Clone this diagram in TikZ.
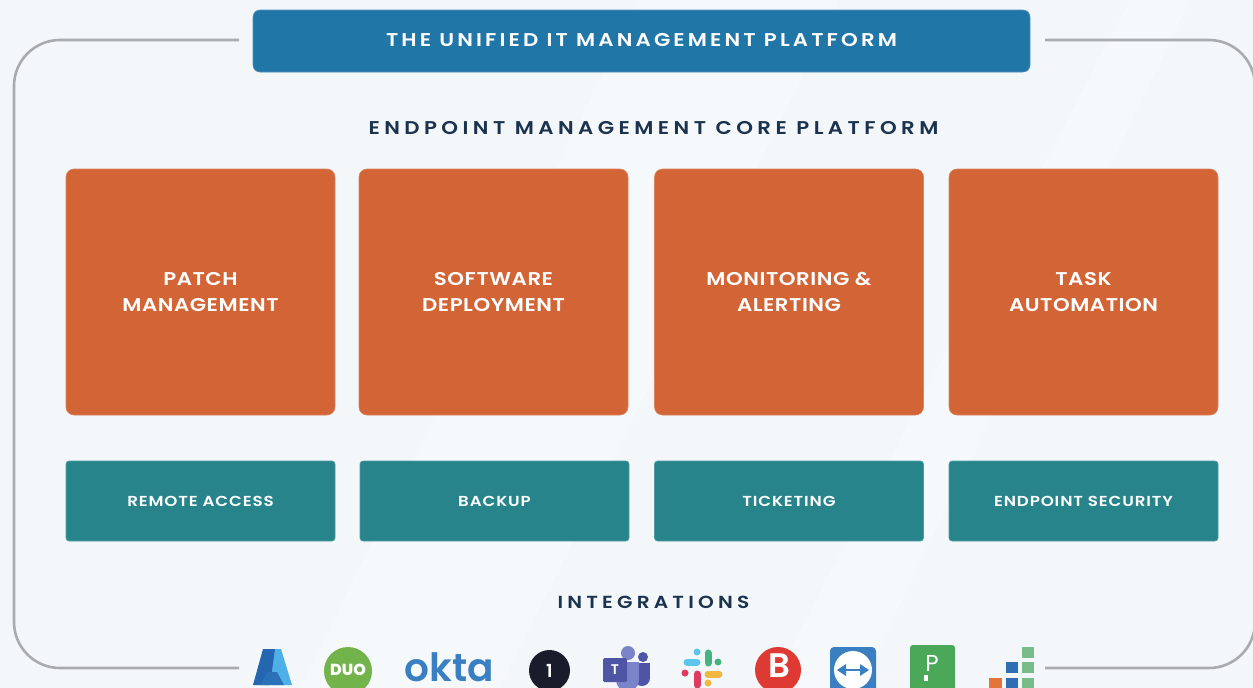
\documentclass[tikz,border=0pt]{standalone}
\usepackage{fontspec}
\usepackage{xcolor}
\newfontfamily\titlefont[LetterSpace=17,FakeStretch=1.15]{Poppins SemiBold}
\newfontfamily\headfont[LetterSpace=24,FakeStretch=1.15]{Poppins SemiBold}
\newfontfamily\boxfont[LetterSpace=3,FakeStretch=1.15]{Poppins SemiBold}
\newfontfamily\smallfont[LetterSpace=6,FakeStretch=1.15]{Poppins SemiBold}
\newfontfamily\logofont{Poppins SemiBold}
\newfontfamily\duofont{Poppins ExtraBold}
\newfontfamily\thinfont{Poppins}
\definecolor{pagebg}{HTML}{F3F7FA}
\definecolor{framegray}{HTML}{A9ABB0}
\definecolor{titleblue}{HTML}{2176A8}
\definecolor{coreorange}{HTML}{D26436}
\definecolor{addonteal}{HTML}{26848A}
\definecolor{headnavy}{HTML}{1C3350}
\definecolor{oktablue}{HTML}{3A7FC1}
\definecolor{teampurple}{HTML}{4F55A5}
\definecolor{teamlight}{HTML}{7B83C9}
\definecolor{logogreen}{HTML}{4AA858}
\definecolor{gridgreen}{HTML}{78BC8A}
\definecolor{gridblue}{HTML}{2F6DB5}
\definecolor{gridorange}{HTML}{E5743A}
\definecolor{azuredark}{HTML}{2566B0}
\definecolor{azurelight}{HTML}{4FB0E8}
\definecolor{duogreen}{HTML}{72B34B}
\definecolor{onedark}{HTML}{191C2B}
\definecolor{beered}{HTML}{DE3A33}
\definecolor{slackblue}{HTML}{5BC5EE}
\definecolor{slackgreen}{HTML}{46B383}
\definecolor{slackyellow}{HTML}{F0B840}
\definecolor{slackred}{HTML}{DE3A62}
\tikzset{
    orangebox/.style={draw=coreorange!80!white, line width=0.6pt, fill=coreorange, rounded corners=8pt, text=white,
        minimum width=269pt, minimum height=246pt, align=center, font=\fontsize{18.5}{26.5}\selectfont\boxfont},
    tealbox/.style={draw=addonteal!80!white, line width=0.6pt, fill=addonteal, rounded corners=3pt, text=white,
        minimum width=269pt, minimum height=80pt, font=\fontsize{14.5}{17}\selectfont\smallfont},
    headtext/.style={text=headnavy, font=\fontsize{18.5}{22}\selectfont\headfont},
    frameline/.style={draw=framegray, line width=2.6pt},
    slackbar/.style={line width=7pt, line cap=round},
    logotext/.style={inner sep=0pt, text=white}
}
\begin{document}
\begin{tikzpicture}[x=1pt,y=-1pt]
    \useasboundingbox (0,0) rectangle (1253,688);
    \clip (0,0) rectangle (1253,688);
    \fill[pagebg] (0,0) rectangle (1253,688);
    % faint streaks
    \fill[white,opacity=0.3] (1130,0) -- (1190,0) -- (860,688) -- (770,688) -- cycle;
    \fill[white,opacity=0.3] (640,0) -- (840,0) -- (500,688) -- (300,688) -- cycle;

    % outer frame
    \draw[frameline] (239,40) -- (60,40) arc (270:180:46) -- (14,622) arc (180:90:46) -- (239,668);
    \draw[frameline] (1045,40) -- (1209,40) arc (270:360:46) -- (1255,622) arc (0:90:46) -- (1045,668);

    \node[fill=titleblue, draw=titleblue!80!white, line width=0.6pt, rounded corners=7pt, minimum width=777pt, minimum height=62pt,
        text=white, font=\fontsize{18.5}{22}\selectfont\titlefont] (title) at (641.5,41) {\raisebox{2pt}{THE UNIFIED IT MANAGEMENT PLATFORM}};
    \node[headtext] (core) at (653.5,128) {ENDPOINT MANAGEMENT CORE PLATFORM};

    \node[orangebox] (patch) at (200.5,292) {PATCH\\MANAGEMENT};
    \node[orangebox] (software) at (493.5,292) {SOFTWARE\\DEPLOYMENT};
    \node[orangebox] (monitoring) at (789,292) {MONITORING \&\\ALERTING};
    \node[orangebox] (task) at (1083.5,292) {TASK\\AUTOMATION};

    \node[tealbox] (remote) at (200.5,501) {REMOTE ACCESS};
    \node[tealbox] (backup) at (494.5,501) {BACKUP};
    \node[tealbox] (ticketing) at (789,501) {TICKETING};
    \node[tealbox] (security) at (1083.5,501) {ENDPOINT SECURITY};

    \node[headtext, font=\fontsize{17.5}{22}\selectfont\headfont] (integrations) at (653.5,602) {INTEGRATIONS};

    % azure
    \fill[azurelight] (266,649) -- (281,649) -- (292,685) -- (272,685) -- cycle;
    \fill[azuredark] (253,685) -- (263,649) -- (275,649) -- (270,685) -- cycle;
    \fill[azuredark!85!azurelight] (268,672) -- (277,672) -- (284,685) -- (260,685) -- cycle;

    % duo
    \fill[duogreen] (348,671) circle (24);
    \node[logotext, font=\fontsize{16}{16}\selectfont\duofont] (duo) at (348,670) {DUO};

    % okta
    \node[inner sep=0pt, text=oktablue, font=\fontsize{39}{39}\selectfont\logofont] (okta) at (449.5,667) {okta};

    % one
    \fill[onedark] (549.5,670.5) circle (20.5);
    \node[logotext, font=\fontsize{18}{18}\selectfont\logofont] (one) at (549.5,670.5) {1};

    % teams
    \fill[teamlight] (628,653) circle (7);
    \fill[teampurple] (643,657) circle (5);
    \fill[teampurple] (634,663) rectangle (650,678);
    \fill[teampurple] (642,678) circle (8);
    \fill[teamlight] (616,662) rectangle (639,680);
    \fill[teamlight] (627.5,680) circle (11.5);
    \node[logotext, fill=teampurple, rounded corners=1.5pt, minimum size=24pt,
        font=\fontsize{14}{14}\selectfont\logofont] (teams) at (615,670) {T};

    % slack
    \draw[slackbar, slackblue] (687,662) -- (697,662);
    \fill[slackblue] (697,652) circle (3.5);
    \draw[slackbar, slackgreen] (708,653) -- (708,663);
    \fill[slackgreen] (718,662) circle (3.5);
    \draw[slackbar, slackyellow] (708,674) -- (719,674);
    \fill[slackyellow] (708,683) circle (3.5);
    \draw[slackbar, slackred] (697,674) -- (697,685);
    \fill[slackred] (685,673) circle (3.5);

    % bitdefender
    \fill[beered] (778,670) circle (23);
    \node[logotext, font=\fontsize{34}{34}\selectfont\logofont] (bee) at (779.5,666) {B};

    % teamviewer
    \fill[oktablue, rounded corners=4pt] (830,647) rectangle (876,700);
    \fill[white] (853,670) circle (19);
    \draw[oktablue, line width=2pt] (843,670) -- (863,670);
    \fill[oktablue] (837,670) -- (846,664) -- (846,676) -- cycle;
    \fill[oktablue] (869,670) -- (860,664) -- (860,676) -- cycle;

    % pagerduty
    \fill[logogreen, rounded corners=3pt] (910,645) rectangle (955,700);
    \node[logotext, font=\fontsize{23}{23}\selectfont\thinfont] (pager) at (932,663) {P};
    \fill[white] (924,675) rectangle (928,681);

    % grid
    \fill[gridorange] (989,678) rectangle (1002,690);
    \fill[gridblue] (1006,662) rectangle (1018,673);
    \fill[gridblue] (1006,678) rectangle (1018,690);
    \fill[gridgreen] (1022,647) rectangle (1034,658);
    \fill[gridgreen] (1022,662) rectangle (1034,673);
    \fill[gridgreen] (1022,678) rectangle (1034,690);
\end{tikzpicture}
\end{document}
